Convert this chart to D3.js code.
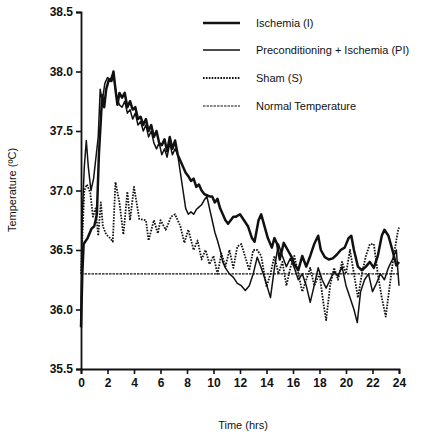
<!DOCTYPE html>
<html><head><meta charset="utf-8">
<script src="https://cdn.jsdelivr.net/npm/d3@7"></script>
<style>body{margin:0;background:#fff}svg{display:block}text{font-family:"Liberation Sans",Arial,sans-serif}</style>
</head><body><svg id="c" width="434" height="435"></svg>
<script>
const ischemiaT = [0,0.1,0.2,0.5,0.8,1.0,1.2,1.35,1.5,1.6,1.75,1.9,2.1,2.3,2.45,2.6,2.75,2.9,3.1,3.3,3.5,3.7,3.9,4.1,4.3,4.5,4.7,4.9,5.1,5.3,5.5,5.7,5.9,6.1,6.3,6.5,6.7,6.9,7.1,7.3,7.5,7.7,7.9,8.1,8.3,8.5,8.7,8.9,9.1,9.3,9.5,9.7,9.9,10.1,10.3,10.5,10.7,10.9,11.1,11.3,11.5,11.7,12.0,12.3,12.6,12.9,13.1,13.4,13.6,13.8,14.1,14.4,14.6,14.8,15.0,15.3,15.6,15.9,16.1,16.4,16.7,17.0,17.3,17.6,17.9,18.1,18.4,18.7,19.0,19.3,19.6,19.9,20.2,20.4,20.6,20.9,21.2,21.5,21.8,22.1,22.4,22.7,22.9,23.2,23.5,23.8,24.0];
const ischemiaV = [35.85,36.3,36.55,36.6,36.68,36.7,36.8,37.3,37.6,37.8,37.7,37.85,37.93,37.92,38.0,37.85,37.72,37.82,37.78,37.82,37.7,37.75,37.68,37.7,37.6,37.62,37.55,37.6,37.5,37.55,37.45,37.5,37.4,37.38,37.43,37.33,37.45,37.35,37.42,37.3,37.25,37.2,37.15,37.12,37.08,37.1,37.03,37.05,37.0,36.97,36.96,36.95,36.95,36.9,36.93,36.85,36.8,36.75,36.72,36.75,36.78,36.78,36.8,36.75,36.7,36.6,36.57,36.75,36.8,36.72,36.6,36.52,36.6,36.55,36.42,36.56,36.5,36.44,36.38,36.33,36.45,36.36,36.45,36.55,36.62,36.5,36.44,36.42,36.43,36.46,36.5,36.52,36.6,36.62,36.5,36.36,36.33,36.36,36.4,36.35,36.45,36.62,36.67,36.62,36.5,36.37,36.4];

const precondT = [0,0.1,0.25,0.4,0.55,0.75,0.95,1.15,1.3,1.45,1.6,1.8,2.0,2.2,2.4,2.55,2.7,2.9,3.1,3.3,3.5,3.7,3.9,4.1,4.3,4.5,4.7,4.9,5.1,5.3,5.5,5.7,5.9,6.1,6.3,6.5,6.7,6.9,7.1,7.3,7.5,7.7,7.9,8.1,8.3,8.5,8.7,8.9,9.1,9.3,9.5,9.7,9.9,10.1,10.3,10.5,10.7,10.9,11.2,11.5,11.8,12.1,12.4,12.7,13.0,13.3,13.6,13.9,14.3,14.6,14.9,15.2,15.5,15.8,16.1,16.4,16.7,17.0,17.3,17.6,17.9,18.2,18.5,18.8,19.1,19.4,19.7,20.0,20.3,20.6,20.85,21.1,21.4,21.7,22.0,22.3,22.6,22.9,23.2,23.5,23.8,24.0];
const precondV = [35.95,36.8,37.2,37.42,37.2,37.0,37.1,37.3,37.45,37.85,37.75,37.9,37.95,37.93,37.98,37.9,37.78,37.72,37.7,37.75,37.65,37.68,37.6,37.65,37.55,37.58,37.5,37.55,37.45,37.5,37.4,37.35,37.4,37.3,37.35,37.28,37.4,37.3,37.35,37.3,37.15,37.0,36.85,36.8,36.82,36.8,36.84,36.86,36.88,36.92,36.95,36.85,36.75,36.65,36.58,36.5,36.4,36.35,36.3,36.27,36.22,36.2,36.16,36.2,36.3,36.44,36.35,36.25,36.1,36.35,36.55,36.45,36.36,36.43,36.35,36.25,36.3,36.2,36.06,36.2,36.35,36.25,36.18,36.25,36.32,36.28,36.36,36.2,36.1,36.0,35.89,36.15,36.25,36.3,36.15,36.22,36.3,36.25,36.35,36.42,36.5,36.2];

const shamT = [0,0.1,0.25,0.45,0.7,0.9,1.1,1.3,1.5,1.65,1.9,2.2,2.4,2.6,2.9,3.2,3.5,3.7,4.0,4.4,4.9,5.1,5.5,5.8,6.0,6.4,6.8,7.1,7.5,7.8,8.1,8.5,8.8,9.1,9.4,9.7,10.0,10.3,10.6,10.9,11.2,11.5,11.8,12.1,12.4,12.7,13.0,13.3,13.6,14.0,14.3,14.6,14.9,15.2,15.5,15.8,16.1,16.4,16.7,17.0,17.3,17.6,18.0,18.3,18.5,18.8,19.1,19.4,19.7,20.0,20.3,20.6,20.9,21.2,21.5,21.8,22.1,22.4,22.7,23.0,23.3,23.6,23.9,24.0];
const shamV = [36.3,36.6,37.0,37.05,36.98,36.78,36.85,36.62,36.9,36.7,36.63,36.6,36.57,37.07,36.9,36.63,36.99,36.75,37.03,36.76,36.75,36.58,36.75,36.64,36.75,36.67,36.78,36.8,36.7,36.56,36.67,36.5,36.58,36.42,36.5,36.38,36.45,36.3,36.47,36.36,36.5,36.35,36.53,36.55,36.44,36.33,36.5,36.5,36.45,36.19,36.3,36.45,36.3,36.4,36.2,36.35,36.45,36.3,36.15,36.25,36.35,36.2,36.3,36.05,35.91,36.2,36.35,36.25,36.4,36.3,36.5,36.3,36.1,36.3,36.45,36.55,36.55,36.3,36.1,35.94,36.2,36.45,36.65,36.69];

const normalT = [0,24];
const normalV = [36.3,36.3];

const xTicks = [0,2,4,6,8,10,12,14,16,18,20,22,24];
const yTicks = [35.5,36.0,36.5,37.0,37.5,38.0,38.5];
const legendLabels = ["Ischemia (I)","Preconditioning + Ischemia (PI)","Sham (S)","Normal Temperature"];

const svg = d3.select("#c");
const x = d3.scaleLinear().domain([0,24]).range([81,399]);
const y = d3.scaleLinear().domain([35.5,38.5]).range([369,12]);

const styles = [
  {w:2.5, dash:null},
  {w:1.5, dash:null},
  {w:1.8, dash:"1.6,1.3"},
  {w:1.2, dash:"2.5,1"}
];

const line = d3.line().x(d=>x(d[0])).y(d=>y(d[1]));
function draw(T,V,s){
  svg.append("path").datum(T.map((t,i)=>[t,V[i]]))
    .attr("d",line).attr("fill","none").attr("stroke","#111")
    .attr("stroke-width",s.w).attr("stroke-linejoin","round")
    .attr("stroke-dasharray",s.dash);
}
draw(normalT,normalV,styles[3]);
draw(shamT,shamV,styles[2]);
draw(precondT,precondV,styles[1]);
draw(ischemiaT,ischemiaV,styles[0]);

const gx = svg.append("g").attr("transform","translate(0,369)")
  .call(d3.axisBottom(x).tickValues(xTicks).tickSize(5).tickPadding(4).tickFormat(d3.format("d")));
const gy = svg.append("g").attr("transform","translate(81,0)")
  .call(d3.axisLeft(y).tickValues(yTicks).tickSize(5).tickPadding(3).tickFormat(d3.format(".1f")));
[gx,gy].forEach(g=>{
  g.select(".domain").attr("stroke","#111").attr("stroke-width",1.8);
  g.selectAll(".tick line").attr("stroke","#111").attr("stroke-width",1.6);
  g.selectAll("text").attr("fill","#111").attr("font-size",12).attr("font-weight","bold")
   .style("font-family","'Liberation Sans',Arial,sans-serif");
});

svg.append("text").attr("x",243).attr("y",429).attr("text-anchor","middle")
  .attr("font-size",11).attr("fill","#111").text("Time (hrs)");
svg.append("text").attr("transform","translate(16,190) rotate(-90)").attr("text-anchor","middle")
  .attr("font-size",11).attr("fill","#111").text("Temperature (ºC)");

const lg = svg.append("g");
const rows = [23,50,78,106];
legendLabels.forEach((lab,i)=>{
  lg.append("line").attr("x1",203).attr("x2",240).attr("y1",rows[i]).attr("y2",rows[i])
    .attr("stroke","#111").attr("stroke-width",styles[i].w).attr("stroke-dasharray",styles[i].dash);
  lg.append("text").attr("x",256).attr("y",rows[i]+4).attr("font-size",11).attr("fill","#111").text(lab);
});
</script></body></html>
